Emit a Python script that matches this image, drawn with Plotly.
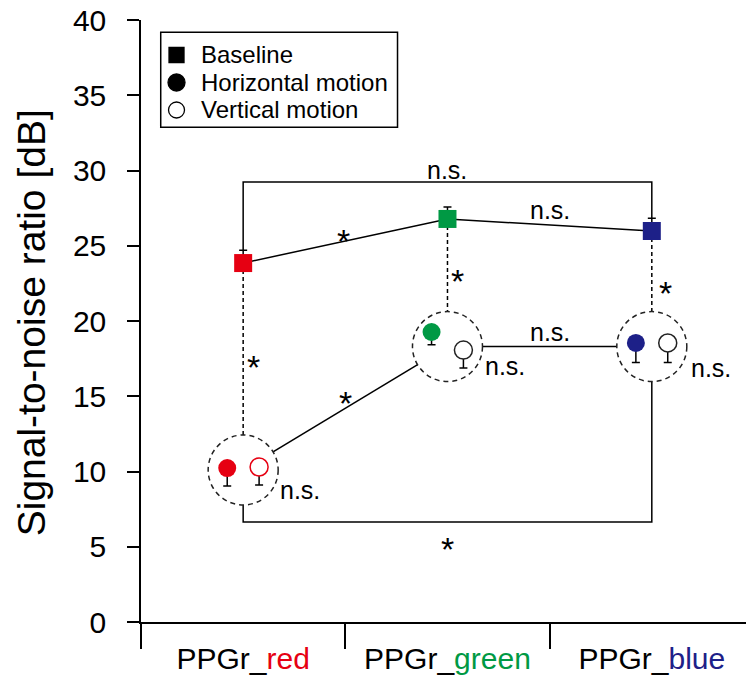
import plotly.graph_objects as go

# ---- data -------------------------------------------------------------
channels = ["red", "green", "blue"]
channel_colors = ["#E60012", "#009944", "#1D2088"]
open_edge_colors = ["#E60012", "#222222", "#222222"]

baseline = [23.85, 26.78, 25.98]
baseline_err = [0.85, 0.80, 0.85]

horizontal = [10.23, 19.27, 18.54]
horizontal_err = [1.2, 0.85, 1.3]

vertical = [10.30, 18.07, 18.54]
vertical_err = [1.2, 1.2, 1.3]

# pooled motion SNR (centre of each dashed group)
motion_pooled = [10.1, 18.3, 18.3]

# significance brackets
top_bracket = 29.24
bottom_bracket = 6.64

legend_labels = ["Baseline", "Horizontal motion", "Vertical motion"]

FONT = "Liberation Sans, Arial, sans-serif"
xc = list(range(len(channels)))
dx = 0.078  # horizontal offset of the two motion markers

fig = go.Figure()

# ---- shapes (drawn under the markers, in order) -------------------------
shapes = []
line_solid = dict(color="black", width=1.5)
line_dash = dict(color="black", width=1.5, dash="4px,3px")

# top bracket: baseline red vs baseline blue
shapes.append(dict(type="path", xref="x", yref="y", layer="below",
                   path=f"M 0,{baseline[0] + baseline_err[0]} L 0,{top_bracket} "
                        f"L 2,{top_bracket} L 2,{baseline[2] + baseline_err[2]}",
                   line=line_solid))
# bottom bracket: motion red vs motion blue
shapes.append(dict(type="path", xref="x", yref="y", layer="below",
                   path=f"M 0,{motion_pooled[0]} L 0,{bottom_bracket} "
                        f"L 2,{bottom_bracket} L 2,{motion_pooled[2]}",
                   line=line_solid))
# links between the motion groups
for i in range(len(xc) - 1):
    shapes.append(dict(type="line", xref="x", yref="y", layer="below",
                       x0=xc[i], y0=motion_pooled[i], x1=xc[i + 1], y1=motion_pooled[i + 1],
                       line=line_solid))
# baseline -> motion dashed connectors
for i in xc:
    shapes.append(dict(type="line", xref="x", yref="y", layer="below",
                       x0=xc[i], y0=baseline[i], x1=xc[i], y1=motion_pooled[i],
                       line=line_dash))
# dashed group circles (white filled so they hide the connector ends)
R = 35
for i in xc:
    shapes.append(dict(type="circle", xref="x", yref="y", layer="below",
                       xsizemode="pixel", ysizemode="pixel",
                       xanchor=xc[i], yanchor=motion_pooled[i],
                       x0=-R, x1=R, y0=-R, y1=R,
                       fillcolor="white",
                       line=dict(color="#222222", width=1.5, dash="5px,4px")))

# ---- legend box (paper coordinates) -------------------------------------
leg_x0, leg_x1, leg_y0, leg_y1 = 0.0326, 0.424, 0.822, 0.9796
leg_sym_x, leg_txt_x = 0.0587, 0.0959
leg_rows = [0.9419, 0.8962, 0.8505]
shapes.append(dict(type="rect", xref="paper", yref="paper", layer="above",
                   x0=leg_x0, x1=leg_x1, y0=leg_y0, y1=leg_y1,
                   fillcolor="white", line=dict(color="black", width=1.5)))
sym_styles = [
    dict(type="rect", half=7.5, fill="black", edge="black"),
    dict(type="circle", half=8.5, fill="black", edge="black"),
    dict(type="circle", half=8.0, fill="white", edge="black"),
]
for row, st in zip(leg_rows, sym_styles):
    h = st["half"]
    shapes.append(dict(type=st["type"], xref="paper", yref="paper", layer="above",
                       xsizemode="pixel", ysizemode="pixel",
                       xanchor=leg_sym_x, yanchor=row,
                       x0=-h, x1=h, y0=-h, y1=h,
                       fillcolor=st["fill"], line=dict(color=st["edge"], width=1.3)))

# ---- traces -------------------------------------------------------------
fig.add_trace(go.Scatter(
    x=xc, y=baseline, mode="lines", line=dict(color="black", width=1.5),
    showlegend=False, hoverinfo="skip"))

fig.add_trace(go.Scatter(
    x=xc, y=baseline, mode="markers", showlegend=False,
    marker=dict(symbol="square", size=18, color=channel_colors, line=dict(width=0)),
    error_y=dict(type="data", symmetric=False, array=baseline_err,
                 arrayminus=[0] * 3, color="black", thickness=1.5, width=4)))

fig.add_trace(go.Scatter(
    x=[v - dx for v in xc], y=horizontal, mode="markers", showlegend=False,
    marker=dict(symbol="circle", size=18, color=channel_colors, line=dict(width=0)),
    error_y=dict(type="data", symmetric=False, array=[0] * 3,
                 arrayminus=horizontal_err, color="black", thickness=1.5, width=4)))

fig.add_trace(go.Scatter(
    x=[v + dx for v in xc], y=vertical, mode="markers", showlegend=False,
    marker=dict(symbol="circle", size=18, color="white",
                line=dict(width=1.5, color=open_edge_colors)),
    error_y=dict(type="data", symmetric=False, array=[0] * 3,
                 arrayminus=vertical_err, color="black", thickness=1.5, width=4)))

# ---- significance labels -----------------------------------------------
labels = [
    (1.0, 30.05, "n.s."),
    (0.49, 25.3, "*"),
    (1.5, 27.4, "n.s."),
    (0.05, 16.95, "*"),
    (1.05, 22.65, "*"),
    (2.065, 21.85, "*"),
    (0.5, 14.55, "*"),
    (1.5, 19.3, "n.s."),
    (0.28, 8.8, "n.s."),
    (1.28, 17.0, "n.s."),
    (2.29, 16.9, "n.s."),
    (1.0, 4.85, "*"),
]
annotations = [dict(x=x, y=y, xref="x", yref="y", text=t, showarrow=False,
                    font=dict(size=34 if t == "*" else 25, color="black", family=FONT))
               for x, y, t in labels]

for row, name in zip(leg_rows, legend_labels):
    annotations.append(dict(x=leg_txt_x, y=row, xref="paper", yref="paper",
                            xanchor="left", yanchor="middle", text=name,
                            showarrow=False,
                            font=dict(size=24, color="black", family=FONT)))

annotations.append(dict(
    x=-0.181, y=0.497, xref="paper", yref="paper", textangle=-90,
    xanchor="center", yanchor="middle",
    text="Signal-to-noise ratio [dB]", showarrow=False,
    font=dict(size=39, color="black", family=FONT)))

tick_text = [f"PPGr_<span style='color:{c}'>{n}</span>"
             for n, c in zip(channels, channel_colors)]

fig.update_layout(
    width=746, height=675,
    margin=dict(l=141, r=0, t=20, b=53, pad=0),
    paper_bgcolor="white", plot_bgcolor="white",
    font=dict(family=FONT, color="black"),
    shapes=shapes, annotations=annotations,
    showlegend=False,
    xaxis=dict(range=[-0.5, 2.461], showgrid=False, zeroline=False,
               automargin=False,
               showline=True, linecolor="black", linewidth=1.5,
               tickmode="array", tickvals=xc, ticktext=tick_text,
               ticks="outside", ticklen=9, tickcolor="rgba(0,0,0,0)",
               tickfont=dict(size=30, family=FONT, color="black"),
               minor=dict(ticks="outside", tick0=-0.5, dtick=1, ticklen=25,
                          tickwidth=1.5, tickcolor="black", showgrid=False)),
    yaxis=dict(range=[0, 40], showgrid=False, zeroline=False,
               automargin=False,
               showline=True, linecolor="black", linewidth=1.5,
               tickmode="linear", tick0=0, dtick=5,
               ticks="outside", ticklen=12, tickwidth=1.5, tickcolor="black",
               ticklabelstandoff=15,
               tickfont=dict(size=30, family=FONT, color="black")),
)

fig.write_html("out.html")
